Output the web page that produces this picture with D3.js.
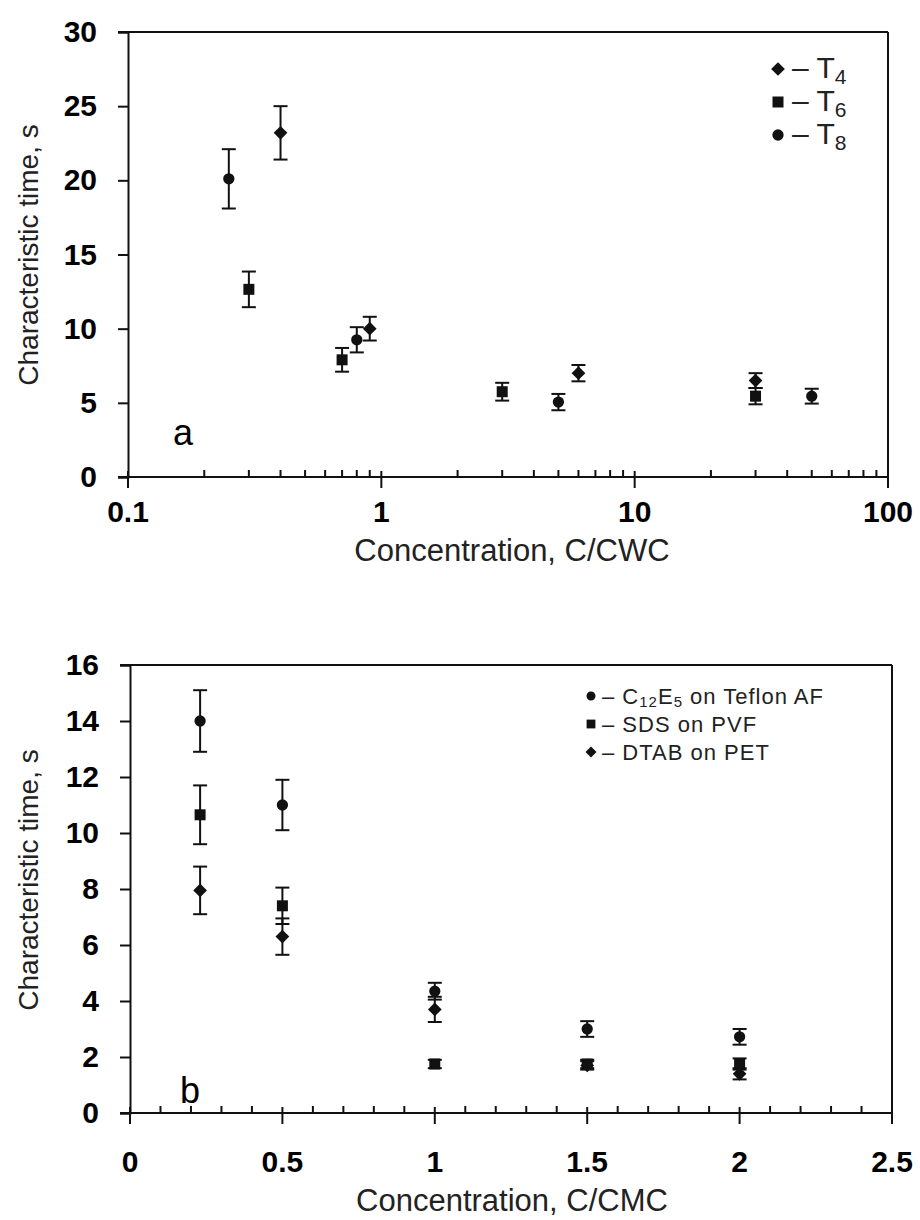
<!DOCTYPE html>
<html>
<head>
<meta charset="utf-8">
<script src="https://cdn.jsdelivr.net/npm/d3@7"></script>
<style>
  body { margin: 0; background: #fff; }
  svg { display: block; font-family: "Liberation Sans", Arial, sans-serif; }
</style>
</head>
<body>
<svg id="chart" width="920" height="1220"></svg>
<script>
// panel a: characteristic time vs C/CWC (log x)
var t4X = [0.4, 0.9, 6, 30];
var t4Y = [23.2, 10.0, 7.0, 6.5];
var t4Err = [1.8, 0.8, 0.55, 0.5];

var t6X = [0.3, 0.7, 3, 30];
var t6Y = [12.65, 7.9, 5.75, 5.45];
var t6Err = [1.2, 0.8, 0.6, 0.55];

var t8X = [0.25, 0.8, 5, 50];
var t8Y = [20.1, 9.25, 5.05, 5.45];
var t8Err = [2.0, 0.85, 0.55, 0.5];

var topYTicks = [0, 5, 10, 15, 20, 25, 30];
var topXTicks = [0.1, 1, 10, 100];
var topXLabels = ["0.1", "1", "10", "100"];

// panel b: characteristic time vs C/CMC
var botX = [0.23, 0.5, 1, 1.5, 2];
var c12e5Y = [14.0, 11.0, 4.35, 3.0, 2.72];
var c12e5Err = [1.1, 0.9, 0.3, 0.28, 0.28];
var sdsY = [10.65, 7.4, 1.75, 1.75, 1.75];
var sdsErr = [1.05, 0.65, 0.15, 0.15, 0.2];
var dtabY = [7.95, 6.3, 3.7, 1.7, 1.4];
var dtabErr = [0.85, 0.65, 0.45, 0.15, 0.2];

var botYTicks = [0, 2, 4, 6, 8, 10, 12, 14, 16];
var botXTicks = [0, 0.5, 1, 1.5, 2, 2.5];
var botXLabels = ["0", "0.5", "1", "1.5", "2", "2.5"];

var ink = "#111";
var svg = d3.select("#chart");

var shapes = {
  diamond: d3.symbol().type(d3.symbolDiamond2 || d3.symbolDiamond).size(120),
  square: d3.symbol().type(d3.symbolSquare).size(121),
  circle: d3.symbol().type(d3.symbolCircle).size(100)
};

function zip(xs, ys, es) {
  return xs.map((x, i) => ({x: x, y: ys[i], e: es[i]}));
}

function drawSeries(g, data, x, y, shape) {
  var pts = g.append("g");
  var bars = pts.selectAll("g.err").data(data).enter().append("g").attr("class", "err")
    .attr("stroke", ink).attr("stroke-width", 2);
  bars.append("line")
    .attr("x1", d => x(d.x)).attr("x2", d => x(d.x))
    .attr("y1", d => y(d.y + d.e)).attr("y2", d => y(d.y - d.e));
  bars.append("line")
    .attr("x1", d => x(d.x) - 7).attr("x2", d => x(d.x) + 7)
    .attr("y1", d => y(d.y + d.e)).attr("y2", d => y(d.y + d.e));
  bars.append("line")
    .attr("x1", d => x(d.x) - 7).attr("x2", d => x(d.x) + 7)
    .attr("y1", d => y(d.y - d.e)).attr("y2", d => y(d.y - d.e));
  pts.selectAll("path").data(data).enter().append("path")
    .attr("d", shapes[shape])
    .attr("transform", d => `translate(${x(d.x)},${y(d.y)})`)
    .attr("fill", ink);
}

function frame(g, left, right, top, bottom) {
  g.append("line").attr("x1", left - 10).attr("x2", right).attr("y1", top).attr("y2", top)
    .attr("stroke", ink).attr("stroke-width", 2);
  g.append("line").attr("x1", right).attr("x2", right).attr("y1", top).attr("y2", bottom + 6)
    .attr("stroke", ink).attr("stroke-width", 2);
}

function yAxis(g, y, ticks, left) {
  var ax = g.append("g")
    .attr("transform", `translate(${left},0)`)
    .call(d3.axisLeft(y).tickValues(ticks).tickSize(10).tickPadding(21).tickFormat(d3.format("d")));
  ax.select(".domain").attr("stroke", ink).attr("stroke-width", 2);
  ax.selectAll(".tick line").attr("stroke", ink).attr("stroke-width", 2);
  ax.selectAll(".tick text").attr("fill", "#000")
    .style("font-size", "30px").style("font-weight", "bold")
    .style("font-family", "'Liberation Sans', Arial, sans-serif");
}

// ---------- panel a ----------
var aL = 128, aR = 888, aT = 32, aB = 477;
var xa = d3.scaleLog().domain([0.1, 100]).range([aL, aR]);
var ya = d3.scaleLinear().domain([0, 30]).range([aB, aT]);
var ga = svg.append("g");

yAxis(ga, ya, topYTicks, aL);
frame(ga, aL, aR, aT, aB);

ga.append("line").attr("x1", aL - 10).attr("x2", aR).attr("y1", aB).attr("y2", aB)
  .attr("stroke", ink).attr("stroke-width", 2);
var minorA = xa.ticks().filter(t => topXTicks.indexOf(t) < 0);
ga.selectAll("line.minor").data(minorA).enter().append("line").attr("class", "minor")
  .attr("x1", d => xa(d)).attr("x2", d => xa(d)).attr("y1", aB - 7).attr("y2", aB)
  .attr("stroke", ink).attr("stroke-width", 2);
ga.selectAll("line.major").data(topXTicks).enter().append("line").attr("class", "major")
  .attr("x1", d => xa(d)).attr("x2", d => xa(d)).attr("y1", aB - 6).attr("y2", aB + 11)
  .attr("stroke", ink).attr("stroke-width", 2);
ga.selectAll("text.xt").data(topXTicks).enter().append("text").attr("class", "xt")
  .attr("x", d => xa(d)).attr("y", aB + 45)
  .attr("text-anchor", "middle").style("font-size", "30px").style("font-weight", "bold")
  .text((d, i) => topXLabels[i]);

ga.append("text").attr("x", 512).attr("y", 561).attr("text-anchor", "middle")
  .style("font-size", "31px").attr("fill", "#222").text("Concentration, C/CWC");
ga.append("text").attr("transform", "translate(28,255) rotate(-90)")
  .attr("text-anchor", "middle").attr("dominant-baseline", "central")
  .style("font-size", "28px").attr("fill", "#222").text("Characteristic time, s");
ga.append("text").attr("x", 183).attr("y", 445).attr("text-anchor", "middle")
  .style("font-size", "36px").text("a");

drawSeries(ga, zip(t6X, t6Y, t6Err), xa, ya, "square");
drawSeries(ga, zip(t8X, t8Y, t8Err), xa, ya, "circle");
drawSeries(ga, zip(t4X, t4Y, t4Err), xa, ya, "diamond");

var legA = [
  {shape: "diamond", sub: "4", y: 69},
  {shape: "square", sub: "6", y: 102},
  {shape: "circle", sub: "8", y: 135}
];
legA.forEach(function(d) {
  ga.append("path").attr("d", shapes[d.shape]).attr("fill", ink)
    .attr("transform", `translate(778,${d.y})`);
  var t = ga.append("text").attr("x", 792).attr("y", d.y + 9)
    .style("font-size", "30px").attr("fill", "#222");
  t.append("tspan").text("– T");
  t.append("tspan").attr("dy", 6).style("font-size", "21px").text(d.sub);
});

// ---------- panel b ----------
var bL = 130, bR = 892, bT = 665, bB = 1113;
var xb = d3.scaleLinear().domain([0, 2.5]).range([bL, bR]);
var yb = d3.scaleLinear().domain([0, 16]).range([bB, bT]);
var gb = svg.append("g");

yAxis(gb, yb, botYTicks, bL);
frame(gb, bL, bR, bT, bB);

gb.append("line").attr("x1", bL - 10).attr("x2", bR).attr("y1", bB).attr("y2", bB)
  .attr("stroke", ink).attr("stroke-width", 2);
var minorB = d3.range(1, 25).map(i => i / 10).filter(t => Math.abs(t * 2 - Math.round(t * 2)) > 1e-6);
gb.selectAll("line.minor").data(minorB).enter().append("line").attr("class", "minor")
  .attr("x1", d => xb(d)).attr("x2", d => xb(d)).attr("y1", bB - 7).attr("y2", bB)
  .attr("stroke", ink).attr("stroke-width", 2);
gb.selectAll("line.major").data(botXTicks).enter().append("line").attr("class", "major")
  .attr("x1", d => xb(d)).attr("x2", d => xb(d)).attr("y1", bB - 6).attr("y2", bB + 11)
  .attr("stroke", ink).attr("stroke-width", 2);
gb.selectAll("text.xt").data(botXTicks).enter().append("text").attr("class", "xt")
  .attr("x", d => xb(d)).attr("y", 1172)
  .attr("text-anchor", "middle").style("font-size", "30px").style("font-weight", "bold")
  .text((d, i) => botXLabels[i]);

gb.append("text").attr("x", 512).attr("y", 1211).attr("text-anchor", "middle")
  .style("font-size", "31px").attr("fill", "#222").text("Concentration, C/CMC");
gb.append("text").attr("transform", "translate(28,880) rotate(-90)")
  .attr("text-anchor", "middle").attr("dominant-baseline", "central")
  .style("font-size", "28px").attr("fill", "#222").text("Characteristic time, s");
gb.append("text").attr("x", 190).attr("y", 1103).attr("text-anchor", "middle")
  .style("font-size", "36px").text("b");

drawSeries(gb, zip(botX, sdsY, sdsErr), xb, yb, "square");
drawSeries(gb, zip(botX, dtabY, dtabErr), xb, yb, "diamond");
drawSeries(gb, zip(botX, c12e5Y, c12e5Err), xb, yb, "circle");

var legB = [
  {shape: "circle", y: 696},
  {shape: "square", y: 724},
  {shape: "diamond", y: 752}
];
legB.forEach(function(d, i) {
  gb.append("path").attr("d", shapes[d.shape]).attr("fill", ink)
    .attr("transform", `translate(591,${d.y}) scale(0.8)`);
  var t = gb.append("text").attr("x", 602).attr("y", d.y + 8)
    .style("font-size", "22px").style("letter-spacing", "1px").attr("fill", "#222");
  if (i === 0) {
    t.append("tspan").text("– C");
    t.append("tspan").attr("dy", 3).style("font-size", "15px").text("12");
    t.append("tspan").attr("dy", -3).text("E");
    t.append("tspan").attr("dy", 3).style("font-size", "15px").text("5");
    t.append("tspan").attr("dy", -3).text(" on Teflon AF");
  } else if (i === 1) {
    t.text("– SDS on PVF");
  } else {
    t.text("– DTAB on PET");
  }
});
</script>
</body>
</html>
